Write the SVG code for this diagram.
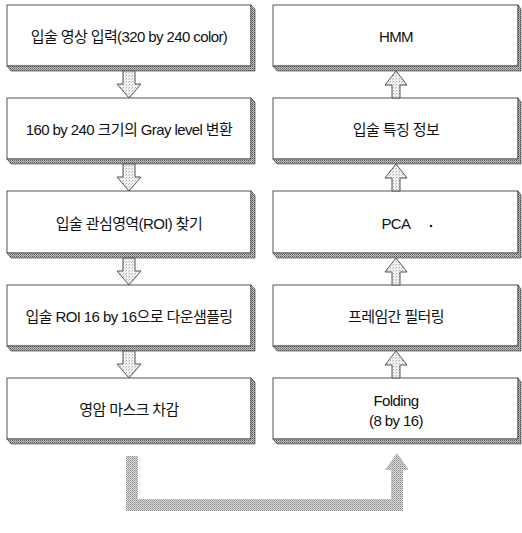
<svg xmlns="http://www.w3.org/2000/svg" width="522" height="533" viewBox="0 0 522 533">
<defs>
<pattern id="dk" width="2" height="2" patternUnits="userSpaceOnUse"><rect width="2" height="2" fill="#c4c4c4"/><rect width="1" height="1" fill="#555"/><rect x="1" y="1" width="1" height="1" fill="#888"/></pattern>
<pattern id="lt" width="3" height="3" patternUnits="userSpaceOnUse"><rect width="3" height="3" fill="#f2f2f2"/><rect width="1" height="1" fill="#aaa"/><rect x="2" y="1" width="1" height="1" fill="#ccc"/></pattern>
<pattern id="md" width="2" height="2" patternUnits="userSpaceOnUse"><rect width="2" height="2" fill="#dcdcdc"/><rect width="1" height="1" fill="#8a8a8a"/><rect x="1" y="1" width="1" height="1" fill="#aaa"/></pattern>
</defs>
<style>
.box{fill:#fff;stroke:#555;stroke-width:1}
.sh{fill:url(#dk);stroke:#333;stroke-width:0.6}
.t{font-family:"Liberation Sans","Noto Sans CJK KR",sans-serif;font-size:15px;fill:#111;text-anchor:middle;dominant-baseline:central;letter-spacing:-0.6px}
.ar{fill:url(#lt);stroke:#555;stroke-width:1}
.band{fill:url(#md);stroke:none}
</style>
<g id="n1"><rect class="box" x="7" y="5" width="244" height="61"/><polygon class="sh" points="7,66 251,66 251,5 255,9 255,71 11,71"/><text class="t" x="129" y="36">입술 영상 입력(320 by 240 color)</text></g>
<g id="n2"><rect class="box" x="7" y="98" width="244" height="61"/><polygon class="sh" points="7,159 251,159 251,98 255,102 255,164 11,164"/><text class="t" x="129" y="129">160 by 240 크기의 Gray level 변환</text></g>
<g id="n3"><rect class="box" x="7" y="191" width="244" height="62"/><polygon class="sh" points="7,253 251,253 251,191 255,195 255,258 11,258"/><text class="t" x="129" y="223">입술 관심영역(ROI) 찾기</text></g>
<g id="n4"><rect class="box" x="7" y="285" width="244" height="61"/><polygon class="sh" points="7,346 251,346 251,285 255,289 255,351 11,351"/><text class="t" x="129" y="316">입술 ROI 16 by 16으로 다운샘플링</text></g>
<g id="n5"><rect class="box" x="7" y="378" width="244" height="61"/><polygon class="sh" points="7,439 251,439 251,378 255,382 255,444 11,444"/><text class="t" x="129" y="409">영암 마스크 차감</text></g>
<g id="n6"><rect class="box" x="273" y="5" width="245" height="61"/><polygon class="sh" points="273,66 518,66 518,5 521,9 521,71 277,71"/><text class="t" x="396" y="36">HMM</text></g>
<g id="n7"><rect class="box" x="273" y="98" width="245" height="61"/><polygon class="sh" points="273,159 518,159 518,98 521,102 521,164 277,164"/><text class="t" x="396" y="129">입술 특징 정보</text></g>
<g id="n8"><rect class="box" x="273" y="191" width="245" height="62"/><polygon class="sh" points="273,253 518,253 518,191 521,195 521,258 277,258"/><text class="t" x="396" y="223">PCA</text><circle cx="431" cy="226" r="1.3" fill="#222"/></g>
<g id="n9"><rect class="box" x="273" y="285" width="245" height="61"/><polygon class="sh" points="273,346 518,346 518,285 521,289 521,351 277,351"/><text class="t" x="396" y="316">프레임간 필터링</text></g>
<g id="n10"><rect class="box" x="273" y="378" width="245" height="61"/><polygon class="sh" points="273,439 518,439 518,378 521,382 521,444 277,444"/><text class="t" x="396" y="400">Folding</text><text class="t" x="396" y="420">(8 by 16)</text></g>
<g id="connectors">
<polygon class="ar" points="123,71 135,71 135,84 141,84 129,98 117,84 123,84"/>
<polygon class="ar" points="123,164 135,164 135,177 141,177 129,191 117,177 123,177"/>
<polygon class="ar" points="123,258 135,258 135,271 141,271 129,285 117,271 123,271"/>
<polygon class="ar" points="123,351 135,351 135,364 141,364 129,378 117,364 123,364"/>
<polygon class="ar" points="392,98 400,98 400,85 407,85 396,71 385,85 392,85"/>
<polygon class="ar" points="392,191 400,191 400,178 407,178 396,164 385,178 392,178"/>
<polygon class="ar" points="392,285 400,285 400,272 407,272 396,258 385,272 392,272"/>
<polygon class="ar" points="392,378 400,378 400,365 407,365 396,351 385,365 392,365"/>
<polygon class="band" points="126,456 138,456 138,499 391,499 391,470 385,470 397,453 409,470 403,470 403,511 126,511"/>
</g>
</svg>
